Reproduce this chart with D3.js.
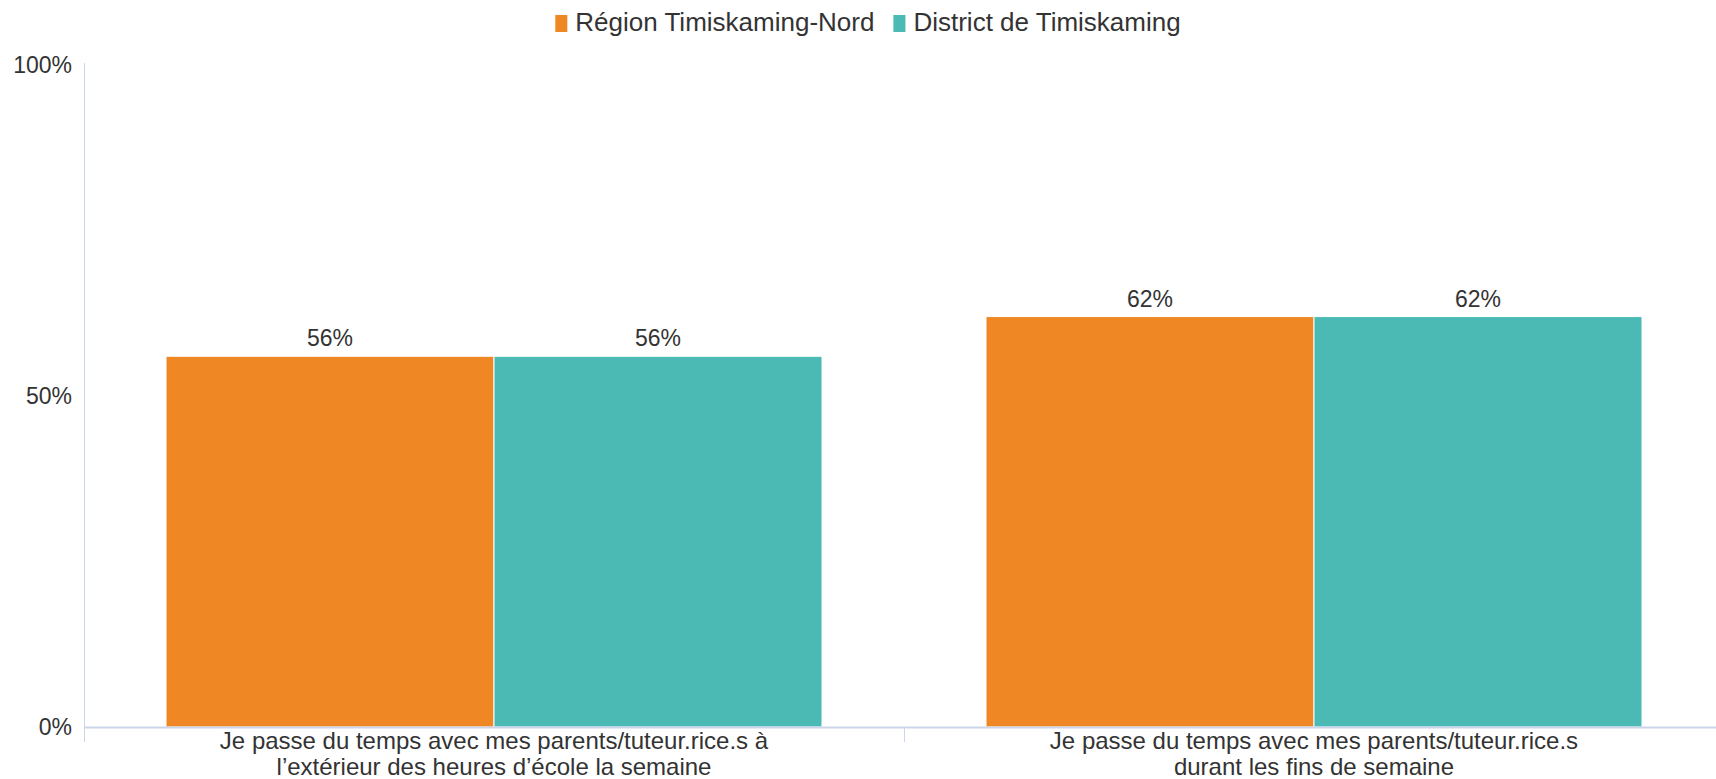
<!DOCTYPE html>
<html>
<head>
<meta charset="utf-8">
<script src="https://cdn.jsdelivr.net/npm/d3@7"></script>
<style>
  body { margin: 0; background: #fff; }
  svg { display: block; font-family: "Liberation Sans", Arial, sans-serif; }
</style>
</head>
<body>
<div id="chart"></div>
<script>
// chart values
var categories = [
  ["Je passe du temps avec mes parents/tuteur.rice.s à", "l\u2019extérieur des heures d\u2019école la semaine"],
  ["Je passe du temps avec mes parents/tuteur.rice.s", "durant les fins de semaine"]
]
var series_names = ["Région Timiskaming-Nord", "District de Timiskaming"]
var series_colors = ["#EF8724", "#4BBAB5"]
var region_values = [56, 62]
var district_values = [56, 62]
var y_ticks = [0, 50, 100]

var width = 1716
var height = 779
// plot area edges
var plot_left = 84, plot_right = 1724, plot_top = 65, plot_bottom = 727

var svg = d3.select("#chart")
            .append("svg")
            .attr("width", width)
            .attr("height", height)

// scales
var x0 = d3.scaleBand()
           .domain(d3.range(categories.length))
           .range([plot_left, plot_right])

var x1 = d3.scaleBand()
           .domain(d3.range(series_names.length))
           .range([x0.bandwidth()*0.1, x0.bandwidth()*0.9])

var y = d3.scaleLinear()
          .domain([0, 100])
          .range([plot_bottom, plot_top])

var values = [region_values, district_values]

// bars and data labels
categories.forEach(function(c, ci){
  var g = svg.append("g").attr("transform", "translate(" + x0(ci) + ",0)")
  series_names.forEach(function(s, si){
    var v = values[si][ci]
    g.append("rect")
      .attr("x", x1(si))
      .attr("y", y(v))
      .attr("width", x1.bandwidth())
      .attr("height", y(0) - y(v))
      .attr("fill", series_colors[si])
      .attr("stroke", "#fff")
      .attr("stroke-width", 1)
    g.append("text")
      .attr("x", x1(si) + x1.bandwidth()/2)
      .attr("y", y(v) - 10)
      .attr("text-anchor", "middle")
      .style("font-size", "23px")
      .style("fill", "#333")
      .text(v + "%")
  })
})

// y axis
var yaxis = d3.axisLeft(y)
              .tickValues(y_ticks)
              .tickSize(0)
              .tickPadding(12)
              .tickFormat(function(d){ return d + "%" })

var yg = svg.append("g")
  .attr("transform", "translate(" + plot_left + ",0)")
  .call(yaxis)
yg.attr("font-family", null).attr("font-size", null)
yg.select(".domain").attr("stroke", "#ccd6eb").attr("d", "M0.5," + (plot_top - 2) + "V" + plot_bottom)
yg.selectAll("text").style("font-size", "23px").style("fill", "#333")

// x axis
var xg = svg.append("g")
  .attr("transform", "translate(0," + plot_bottom + ")")
xg.append("line")
  .attr("x1", plot_left).attr("x2", width)
  .attr("y1", 0.5).attr("y2", 0.5)
  .attr("stroke", "#ccd6eb")
  .attr("stroke-width", 2)
xg.selectAll(".tick")
  .data(d3.range(categories.length))
  .enter()
  .append("line")
  .attr("x1", d => x0(d) + 0.5).attr("x2", d => x0(d) + 0.5)
  .attr("y1", 0).attr("y2", 15)
  .attr("stroke", "#ccd6eb")
xg.selectAll(".label")
  .data(categories)
  .enter()
  .append("text")
  .attr("text-anchor", "middle")
  .attr("x", (d, i) => x0(i) + x0.bandwidth()/2)
  .attr("y", 22)
  .style("font-size", "24px")
  .style("fill", "#333")
  .selectAll("tspan")
  .data(d => d)
  .enter()
  .append("tspan")
  .attr("x", function(){ return this.parentNode.getAttribute("x") })
  .attr("dy", (d, i) => i == 0 ? 0 : 26)
  .text(d => d)

// legend
var legend = svg.append("g")
var lx = 0
series_names.forEach(function(s, i){
  legend.append("rect")
    .attr("x", lx).attr("y", 15)
    .attr("width", 12).attr("height", 17)
    .attr("fill", series_colors[i])
  var t = legend.append("text")
    .attr("x", lx + 20).attr("y", 31)
    .style("font-size", "26px")
    .style("fill", "#333")
    .text(s)
  lx += 20 + t.node().getComputedTextLength() + 19
})
var lw = lx - 19
legend.attr("transform", "translate(" + (868 - lw/2) + ",0)")
</script>
</body>
</html>
